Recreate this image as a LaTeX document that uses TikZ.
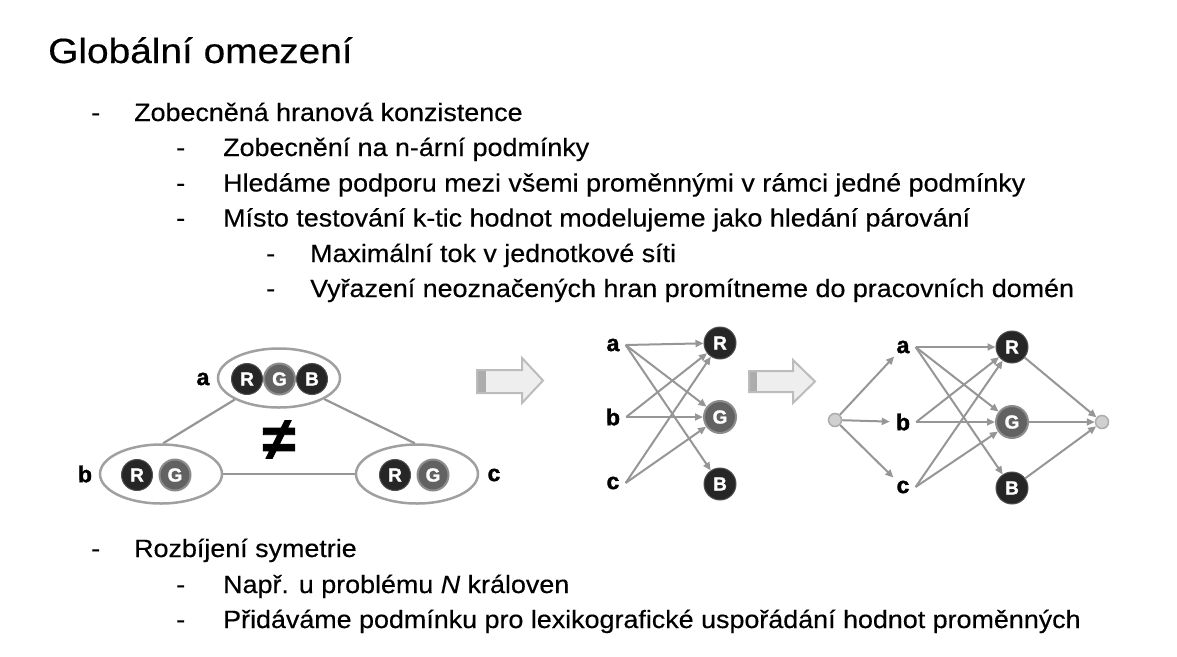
\documentclass[tikz,border=0pt]{standalone}
\usepackage{fontspec}
\setmainfont{Liberation Sans}[FakeStretch=1.075, FakeBold=0.4]
\newfontfamily\headfont{Liberation Sans}[FakeStretch=1.11, FakeBold=0.4]
\newfontfamily\labelfont{Liberation Sans}[FakeBold=1.5]
\usetikzlibrary{arrows.meta,shapes.geometric}

\definecolor{edgegray}{RGB}{150,150,150}
\definecolor{ringgray}{RGB}{160,160,160}
\definecolor{dotdark}{RGB}{38,38,38}
\definecolor{dotdarkring}{RGB}{80,80,80}
\definecolor{dotmid}{RGB}{98,98,98}
\definecolor{dotmidring}{RGB}{140,140,140}
\definecolor{termfill}{RGB}{208,208,208}
\definecolor{termring}{RGB}{172,172,172}
\definecolor{blockfill}{RGB}{238,238,238}
\definecolor{blockline}{RGB}{188,188,188}
\definecolor{blockband}{RGB}{172,172,172}

\tikzset{
  titletext/.style={anchor=base west, inner sep=0pt, font=\headfont\fontsize{35}{40}\selectfont},
  bodytext/.style={anchor=base west, inner sep=0pt, font=\fontsize{25}{30}\selectfont},
  domainring/.style={ellipse, draw=ringgray, line width=2.5pt, inner sep=0pt,
    minimum width=122pt, minimum height=59pt},
  varlabel/.style={inner xsep=6pt, inner ysep=3pt, font=\labelfont\bfseries\fontsize{23}{23}\selectfont},
  dot/.style={circle, inner sep=0pt, minimum size=31pt, text=white,
    font=\labelfont\bfseries\fontsize{19}{19}\selectfont},
  darkdot/.style={dot, fill=dotdark, draw=dotdarkring, line width=1pt},
  greydot/.style={dot, fill=dotmid, draw=dotmidring, line width=2pt},
  terminal/.style={circle, inner sep=0pt, minimum size=13pt, fill=termfill, draw=termring, line width=1.5pt},
  plainedge/.style={draw=edgegray, line width=2.2pt},
  flowedge/.style={draw=edgegray, line width=2pt, -{Triangle[length=8pt,width=7pt]}},
}

\begin{document}
\begin{tikzpicture}[x=1pt,y=-1pt]
\useasboundingbox (0,0) rectangle (1177,656);

% heading and bullet list
\node[titletext] (title) at (48,63) {Globální omezení};

\node[bodytext] (d1) at (91,121) {-};
\node[bodytext] (t1) at (134,121) {Zobecněná hranová konzistence};
\node[bodytext] (d2) at (176,156) {-};
\node[bodytext] (t2) at (223,156) {Zobecnění na n-ární podmínky};
\node[bodytext] (d3) at (176,191.5) {-};
\node[bodytext] (t3) at (223,191.5) {Hledáme podporu mezi všemi proměnnými v rámci jedné podmínky};
\node[bodytext] (d4) at (176,226.5) {-};
\node[bodytext] (t4) at (223,226.5) {Místo testování k-tic hodnot modelujeme jako hledání párování};
\node[bodytext] (d5) at (266,262) {-};
\node[bodytext] (t5) at (310,262) {Maximální tok v jednotkové síti};
\node[bodytext] (d6) at (266,297) {-};
\node[bodytext] (t6) at (310,297) {Vyřazení neoznačených hran promítneme do pracovních domén};

\node[bodytext] (d7) at (91,557) {-};
\node[bodytext] (t7) at (134,557) {Rozbíjení symetrie};
\node[bodytext] (d8) at (176,593) {-};
\node[bodytext] (t8) at (223,593) {Např. u problému \textit{N} královen};
\node[bodytext] (d9) at (176,628) {-};
\node[bodytext] (t9) at (223,628) {Přidáváme podmínku pro lexikografické uspořádání hodnot proměnných};

% constraint graph with domains
\node[domainring] (da) at (279,378) {};
\node[domainring] (db) at (161,474) {};
\node[domainring] (dc) at (417,474) {};
\draw[plainedge] (da.206) -- (db.86);
\draw[plainedge] (da.335) -- (dc.94);
\draw[plainedge] (db.east) -- (dc.west);

\node[darkdot] (aR) at (247,379) {R};
\node[greydot] (aG) at (279.5,379) {G};
\node[darkdot] (aB) at (312,379) {B};
\node[darkdot] (bR) at (137,475) {R};
\node[greydot] (bG) at (175,475) {G};
\node[darkdot] (cR) at (395,475) {R};
\node[greydot] (cG) at (433,475) {G};

\node[varlabel] (la) at (203,379) {a};
\node[varlabel] (lb) at (85,474) {b};
\node[varlabel] (lc) at (494,475) {c};
\node[font=\labelfont\bfseries\fontsize{60}{60}\selectfont, inner sep=0pt] (neq) at (279,440) {≠};

% first block arrow
\fill[blockfill] (477,370) -- (522,370) -- (522,358) -- (543,380.5) -- (522,403) -- (522,393) -- (477,393) -- cycle;
\fill[blockband] (477,370) rectangle (486,393);
\draw[blockline, line width=2pt, line join=miter] (477,370) -- (522,370) -- (522,358) -- (543,380.5) -- (522,403) -- (522,393) -- (477,393) -- cycle;

% bipartite variable/value graph
\node[varlabel] (pa) at (613,345) {a};
\node[varlabel] (pb) at (613,417) {b};
\node[varlabel] (pc) at (613,483) {c};
\node[darkdot, minimum size=32pt] (pR) at (720,343) {R};
\node[greydot, minimum size=32pt] (pG) at (720,417) {G};
\node[darkdot, minimum size=32pt] (pB) at (720,484) {B};
\draw[flowedge] (pa.east) -- (pR);
\draw[flowedge] (pa.east) -- (pG);
\draw[flowedge] (pa.east) -- (pB);
\draw[flowedge] (pb.east) -- (pR);
\draw[flowedge] (pb.east) -- (pG);
\draw[flowedge] (pc.east) -- (pR);
\draw[flowedge] (pc.east) -- (pG);

% second block arrow
\fill[blockfill] (749,371) -- (793,371) -- (793,360) -- (815,381.5) -- (793,403) -- (793,392) -- (749,392) -- cycle;
\fill[blockband] (749,371) rectangle (757,392);
\draw[blockline, line width=2pt, line join=miter] (749,371) -- (793,371) -- (793,360) -- (815,381.5) -- (793,403) -- (793,392) -- (749,392) -- cycle;

% unit flow network
\node[terminal] (src) at (835,420) {};
\node[terminal] (snk) at (1102,422) {};
\node[varlabel] (fa) at (903,347) {a};
\node[varlabel] (fb) at (903,422) {b};
\node[varlabel] (fc) at (903,487) {c};
\node[darkdot, minimum size=32pt] (fR) at (1012,347) {R};
\node[greydot, minimum size=32pt] (fG) at (1012,422) {G};
\node[darkdot, minimum size=32pt] (fB) at (1012,488) {B};
\draw[flowedge] (src) -- (fa);
\draw[flowedge] (src) -- (fb);
\draw[flowedge] (src) -- (fc);
\draw[flowedge] (fa.east) -- (fR);
\draw[flowedge] (fa.east) -- (fG);
\draw[flowedge] (fa.east) -- (fB);
\draw[flowedge] (fb.east) -- (fR);
\draw[flowedge] (fb.east) -- (fG);
\draw[flowedge] (fc.east) -- (fR);
\draw[flowedge] (fc.east) -- (fG);
\draw[flowedge] (fR) -- (snk);
\draw[flowedge] (fG) -- (snk);
\draw[flowedge] (fB) -- (snk);
\end{tikzpicture}
\end{document}
